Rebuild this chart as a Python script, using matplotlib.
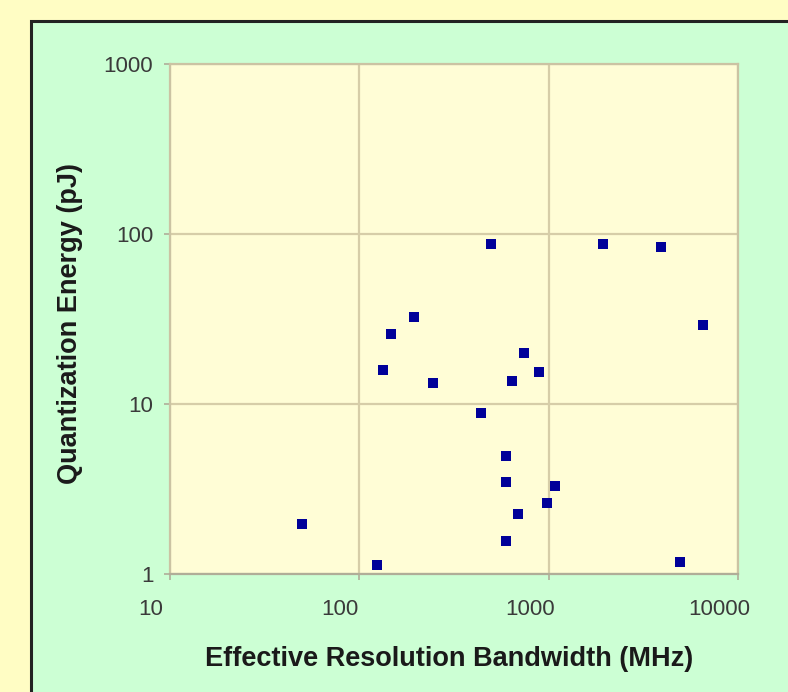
import matplotlib
matplotlib.use("Agg")
import matplotlib.pyplot as plt
import matplotlib.transforms as mtransforms
from matplotlib.patches import Rectangle

# Effective resolution bandwidth (MHz) and quantization energy (pJ)
bandwidth = [50, 124, 133, 147, 194, 245, 440, 497, 1937, 3925, 6550,
             741, 641, 890, 596, 596, 689, 596, 981, 1082, 4940]
energy = [1.97, 1.13, 15.8, 25.8, 32.5, 13.3, 8.85, 87, 87, 84, 29.2,
          20.0, 13.7, 15.4, 4.94, 3.48, 2.25, 1.56, 2.62, 3.29, 1.18]

x_ticks = [10, 100, 1000, 10000]
y_ticks = [1, 10, 100, 1000]

plt.rcParams["font.family"] = ["Liberation Sans", "DejaVu Sans"]

W, H = 788, 692
fig = plt.figure(figsize=(W / 100, H / 100), dpi=100)
fig.patch.set_facecolor("#FFFDC4")

# green chart panel with black border, behind the axes
panel = Rectangle((31 / W, -0.1), 1.2, 1 - 21 / H + 0.1,
                  transform=fig.transFigure, facecolor="#CCFFD4",
                  edgecolor="#222222", lw=2.2, zorder=-1)
fig.patches.append(panel)

ax = fig.add_axes([170 / W, 1 - 574 / H, (738 - 170) / W, (574 - 64) / H])
ax.set_facecolor("#FFFDD6")
ax.set_xscale("log")
ax.set_yscale("log")
ax.set_xlim(10, 10000)
ax.set_ylim(1, 1000)

ax.scatter(bandwidth, energy, marker="s", s=55, color="#000099",
           edgecolors="none", zorder=3, clip_on=False)

ax.set_xticks(x_ticks)
ax.set_xticklabels([str(v) for v in x_ticks])
ax.set_yticks(y_ticks)
ax.set_yticklabels([str(v) for v in y_ticks])
ax.minorticks_off()
ax.grid(True, color="#D6CDA8", lw=1.6)
ax.set_axisbelow(True)
for sp in ax.spines.values():
    sp.set_color("#CBC3A3")
    sp.set_linewidth(1.6)
ax.spines["bottom"].set_color("#B0AD98")

ax.tick_params(axis="both", length=4, width=1.2, color="#B0AD98",
               labelsize=16, labelcolor="#3a3a3a")
ax.tick_params(axis="x", pad=14)
ax.tick_params(axis="y", pad=8)

# the x labels sit a bit left of their gridlines
shift = mtransforms.ScaledTranslation(-19 / 100, 0, fig.dpi_scale_trans)
for lab in ax.get_xticklabels():
    lab.set_transform(lab.get_transform() + shift)

ax.set_xlabel("Effective Resolution Bandwidth (MHz)", fontsize=19.5,
              fontweight="bold", color="#1a1a1a", va="center")
ax.xaxis.set_label_coords((449 - 170) / 568, -(659 - 574) / 510)
ax.set_ylabel("Quantization Energy (pJ)", fontsize=19.5,
              fontweight="bold", color="#1a1a1a", va="center")
ax.yaxis.set_label_coords((70 - 170) / 568, (574 - 323) / 510)

fig.savefig("out.png", dpi=100, facecolor=fig.get_facecolor())
